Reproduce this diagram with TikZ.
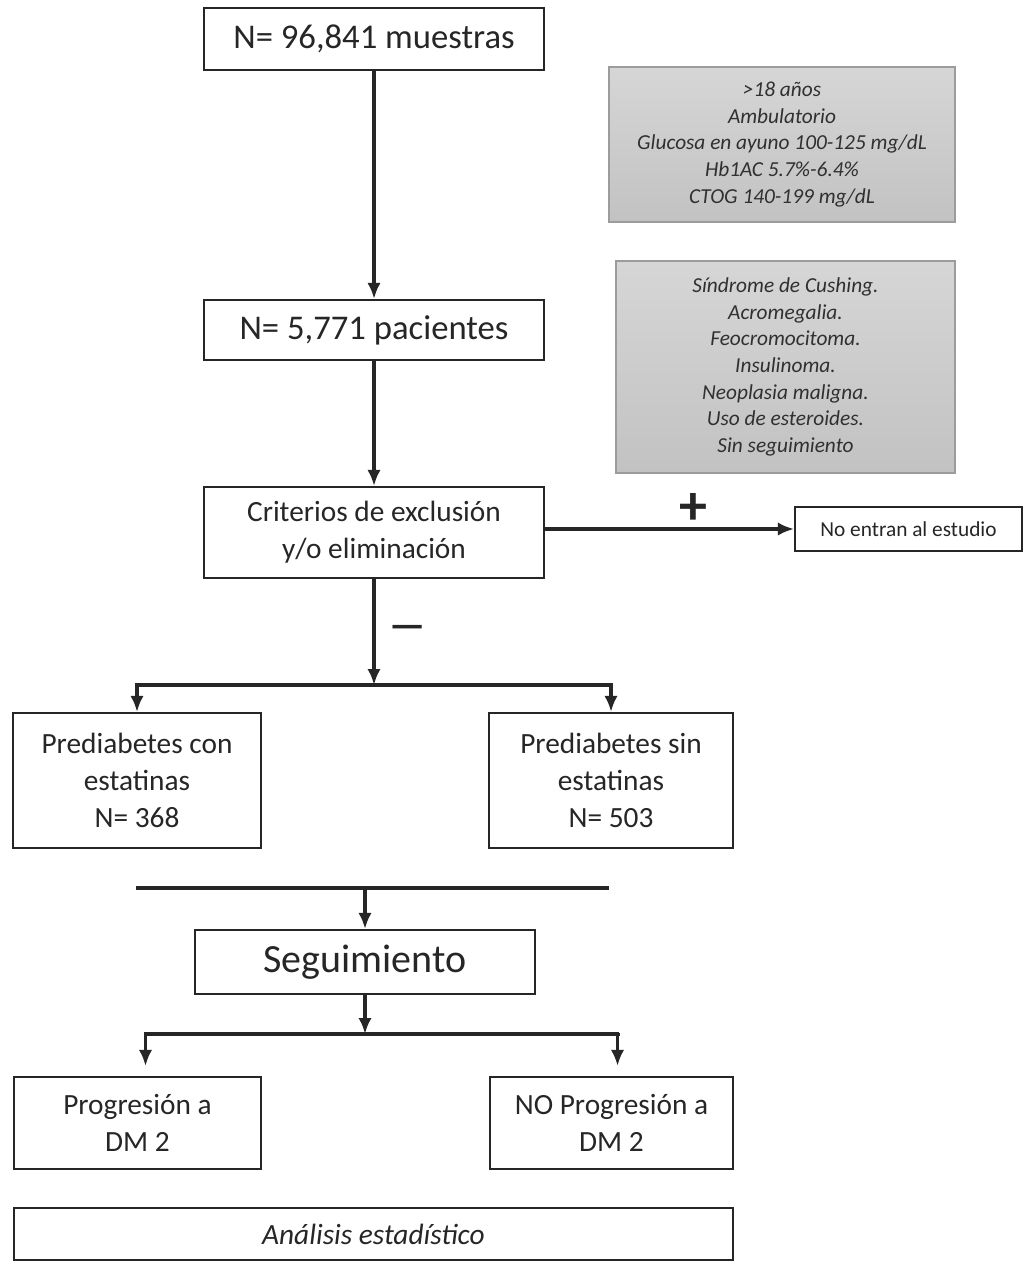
\documentclass[tikz,border=0pt]{standalone}
\usepackage{fontspec}
\setmainfont{Carlito}
\usetikzlibrary{arrows.meta,calc}
\definecolor{txt}{HTML}{262626}
\definecolor{gtxt}{HTML}{303030}
\definecolor{gborder}{HTML}{9C9C9C}
\definecolor{gtop}{HTML}{D6D6D6}
\definecolor{gbot}{HTML}{C2C2C2}
\begin{document}
\begin{tikzpicture}[x=0.75pt,y=-0.75pt,
  box/.style={draw=black!85,line width=1.6pt,fill=white,align=center,inner sep=0pt,text=txt},
  graybox/.style={draw=gborder,line width=0.9pt,top color=gtop,bottom color=gbot,align=center,inner sep=0pt,text=gtxt,
    font=\fontsize{16}{20}\selectfont\itshape},
  conn/.style={draw=black!85,line width=2.5pt,-{Latex[length=12pt,width=10pt]}},
  bar/.style={draw=black!85,line width=3pt},
  bigfont/.style={font=\fontsize{26}{30}\selectfont},
  midfont/.style={font=\fontsize{22}{27.5}\selectfont}
]
\useasboundingbox (0,0) rectangle (1029,1262);
\fill[white] (0,0) rectangle (1029,1262);

% main column
\node[box,bigfont,minimum width=255pt,minimum height=46.5pt] (b1) at (374,39) {N= 96,841 muestras};
\node[box,bigfont,minimum width=255pt,minimum height=45pt] (b2) at (374,330) {N= 5,771 pacientes};
\node[box,midfont,minimum width=255pt,minimum height=68.25pt] (b3) at (374,532.5) {Criterios de exclusión\\y/o eliminación};

% gray boxes
\node[graybox,minimum width=259.5pt,minimum height=116.25pt] (g1) at (782,144.5)
  {>18 años\\Ambulatorio\\Glucosa en ayuno 100-125 mg/dL\\Hb1AC 5.7\%-6.4\%\\CTOG 140-199 mg/dL};
\node[graybox,minimum width=254.25pt,minimum height=159pt] (g2) at (785.5,367)
  {Síndrome de Cushing.\\Acromegalia.\\Feocromocitoma.\\Insulinoma.\\Neoplasia maligna.\\Uso de esteroides.\\Sin seguimiento};

\node[box,font=\fontsize{16}{19}\selectfont,minimum width=170.25pt,minimum height=33pt] (ne) at (908.5,529) {No entran al estudio};

% second level
\node[box,midfont,minimum width=186pt,minimum height=101.25pt] (b4) at (137,780.5) {Prediabetes con\\estatinas\\N= 368};
\node[box,midfont,minimum width=183pt,minimum height=101.25pt] (b5) at (611,780.5) {Prediabetes sin\\estatinas\\N= 503};

\node[box,font=\fontsize{30}{34}\selectfont,minimum width=255pt,minimum height=48pt] (seg) at (365,962) {Seguimiento};

\node[box,midfont,minimum width=185.25pt,minimum height=69pt] (p1) at (137.5,1123) {Progresión a\\DM 2};
\node[box,midfont,minimum width=182.25pt,minimum height=69pt] (p2) at (611.5,1123) {NO Progresión a\\DM 2};

\node[box,midfont,minimum width=539.25pt,minimum height=39pt] (an) at (373.5,1234) {\itshape Análisis estadístico};

% labels
\node[text=txt,font=\fontsize{42}{42}\selectfont\bfseries] (plus) at (693,509) {+};
\node[text=txt,font=\fontsize{30}{30}\selectfont\bfseries] (minus) at (408,632) {\textemdash};

% coordinates
\coordinate (j1) at (374,685);
\coordinate (j2) at (365,1034);
\coordinate (l1) at (136,888);
\coordinate (l2) at (609,888);
\coordinate (l3) at (365,888);

% connectors
\draw[conn] (b1.south) -- (b2.north);
\draw[conn] (b2.south) -- (b3.north);
\draw[conn] (b3.east |- ne.west) -- (ne.west);
\draw[conn] (b3.south) -- (j1);
\draw[bar] ($(b4.north)+(0,-28)$) |- (j1) -| ($(b5.north)+(0,-28)$);
\draw[conn] ($(b4.north)+(0,-29)$) -- (b4.north);
\draw[conn] ($(b5.north)+(0,-29)$) -- (b5.north);

\draw[bar,line width=3.6pt] (l1) -- (l2);
\draw[conn] (l3) -- (seg.north);
\draw[conn] (seg.south) -- (j2);
\draw[bar] ($(p1.north)+(8,-43)$) |- (j2) -| ($(p2.north)+(6,-43)$);
\draw[conn] ($(p1.north)+(8,-44)$) -- ($(p1.north)+(8,-10)$);
\draw[conn] ($(p2.north)+(6,-44)$) -- ($(p2.north)+(6,-10)$);
\end{tikzpicture}
\end{document}
